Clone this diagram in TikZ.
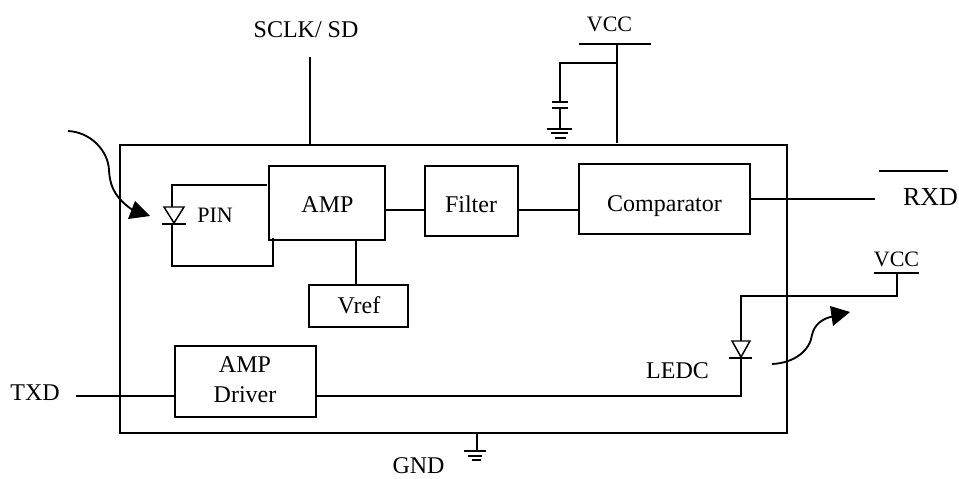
\documentclass[tikz,border=0pt]{standalone}
\usepackage{fontspec}
\setmainfont{Liberation Serif}
\begin{document}
\begin{tikzpicture}[x=0.75pt,y=-0.75pt,line join=miter,
  wire/.style={draw=black,line width=1.1pt},
  box/.style={draw=black,line width=1.1pt,rectangle,inner sep=0pt},
  lbl/.style={inner sep=0pt,anchor=base,font=\fontsize{18pt}{22pt}\selectfont},
  lblsm/.style={inner sep=0pt,anchor=base,font=\fontsize{16.5pt}{20pt}\selectfont},
  lblbig/.style={inner sep=0pt,anchor=base,font=\fontsize{19.5pt}{23pt}\selectfont},
  raytip/.style={fill=black,draw=none}]
\useasboundingbox (0,0) rectangle (959,478);
% boxes
\node[box,minimum width=500.25pt,minimum height=216pt] (main) at (453.5,289) {};
\node[box,minimum width=87pt,minimum height=55.5pt] (amp) at (327,203) {};
\node[box,minimum width=69.75pt,minimum height=52.5pt] (filter) at (471.5,201) {};
\node[box,minimum width=128.25pt,minimum height=52.5pt] (comp) at (664.5,199) {};
\node[box,minimum width=74.25pt,minimum height=31.5pt] (vref) at (358.5,306) {};
\node[box,minimum width=105.75pt,minimum height=53.25pt] (drv) at (245.5,381.5) {};
% labels
\node[lbl] (tamp) at (327.5,212) {AMP};
\node[lbl] (tfil) at (471,212) {Filter};
\node[lbl] (tcmp) at (664.5,211) {Comparator};
\node[lbl] (tvrf) at (359,313) {Vref};
\node[lbl] (tdr1) at (245,372) {AMP};
\node[lbl] (tdr2) at (245,402) {Driver};
\node[lbl] (sclk) at (306,38) {SCLK/ SD};
\node[lblsm] (vcc1) at (609.5,31.5) {VCC};
\node[lblsm] (vcc2) at (896.5,266) {VCC};
\node[lblbig] (rxd) at (930.5,205) {RXD};
\node[lbl] (txd) at (35,400) {TXD};
\node[lblsm] (pin) at (215,222) {PIN};
\node[lbl] (ledc) at (677.5,378) {LEDC};
\node[lbl,font=\fontsize{18pt}{18pt}\selectfont] (gnd) at (418.5,473.5) {GND};
% connection points
\coordinate (ampE) at (385,210); \coordinate (filW) at (425,210);
\coordinate (filE) at (518,210); \coordinate (cmpW) at (579,210);
\coordinate (cmpE) at (750,199); \coordinate (rxdW) at (875,199);
\coordinate (barL) at (879,171); \coordinate (barR) at (948,171);
\coordinate (sclkT) at (310,57); \coordinate (sclkB) at (310,145);
\coordinate (vtop) at (617,44); \coordinate (vbot) at (617,143);
\coordinate (vL) at (579,44); \coordinate (vR) at (651,44);
\coordinate (vj) at (617,63); \coordinate (cj) at (560,63);
\coordinate (ampB) at (356,240); \coordinate (vrefT) at (356,285);
\coordinate (txdW) at (76,396); \coordinate (drvW) at (175,396);
\coordinate (drvE) at (316,396); \coordinate (ledB) at (741,396);
\coordinate (ledT) at (741,296); \coordinate (vccC) at (897,296);
\coordinate (vccB) at (897,273);
\coordinate (gndT) at (477,433); \coordinate (gndB) at (477,451);
\coordinate (pinTop) at (172,185); \coordinate (pinTE) at (267,185);
\coordinate (pinBot) at (172,266); \coordinate (pinBE) at (273,266);
\coordinate (pinUp) at (273,238);
% wires
\draw[wire] (ampE) -- (filW);
\draw[wire] (filE) -- (cmpW);
\draw[wire] (cmpE) -- (rxdW);
\draw[wire] (barL) -- (barR);
\draw[wire] (sclkT) -- (sclkB);
\draw[wire] (vL) -- (vR);
\draw[wire] (vtop) -- (vbot);
\draw[wire] (vj) -- (cj) -- (560,102);
\draw[wire] (552,102) -- (568,102);
\draw[wire] (552,108) -- (568,108);
\draw[wire] (560,108) -- (560,128);
\draw[wire] (547,129) -- (572,129);
\draw[wire] (551,133) -- (568,133);
\draw[wire] (555,138) -- (566,138);
\draw[wire] (ampB) -- (vrefT);
\draw[wire] (txdW) -- (drvW);
\draw[wire] (drvE) -- (ledB) -- (741,358);
\draw[wire] (741,341) -- (ledT) -- (vccC) -- (vccB);
\draw[wire] (874,273) -- (919,273);
% LED diode
\draw[wire] (732,341) -- (750,341) -- (741,357) -- cycle;
\draw[wire] (729,358) -- (752,358);
% PIN diode
\draw[wire] (pinTE) -- (pinTop) -- (172,207);
\draw[wire] (164,207) -- (184,207) -- (174,223) -- cycle;
\draw[wire] (162,224) -- (186,224);
\draw[wire] (172,224) -- (pinBot) -- (pinBE) -- (pinUp);
% ground
\draw[wire] (gndT) -- (gndB);
\draw[wire] (464,451) -- (486,451);
\draw[wire] (468,456) -- (482,456);
\draw[wire] (472,460) -- (481,460);
% incoming light
\draw[line width=1.4pt] (68,131) .. controls (90,132) and (108,150) .. (109,170)
  .. controls (110,190) and (118,200) .. (134,211);
\fill[raytip] (150,216) -- (135,201) -- (128,219) -- cycle;
% outgoing light
\draw[line width=1.4pt] (772,364) .. controls (795,363) and (810,350) .. (812,335)
  .. controls (814,325) and (822,318) .. (835,316);
\fill[raytip] (850,312) -- (830,306) -- (833,326) -- cycle;
\end{tikzpicture}
\end{document}
